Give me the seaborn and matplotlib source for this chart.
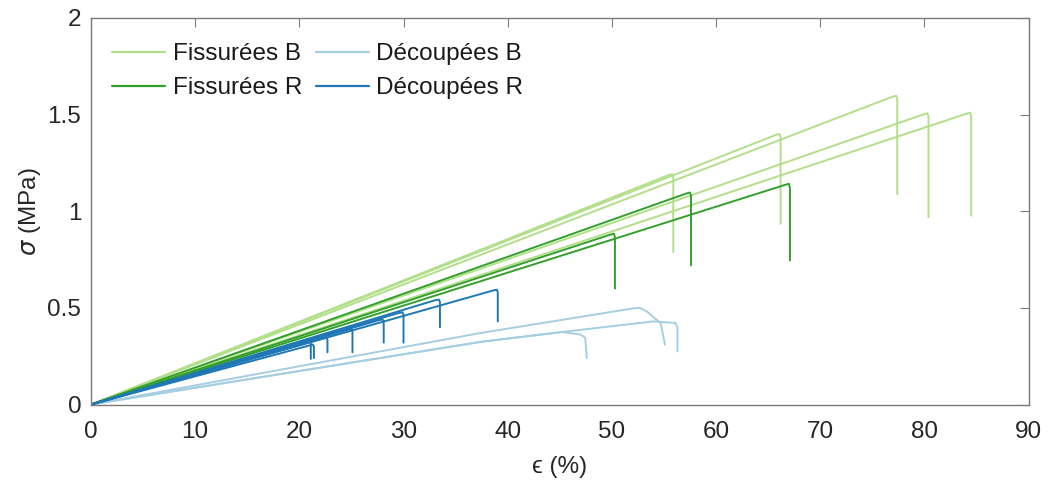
import numpy as np
import pandas as pd
import matplotlib
matplotlib.use("Agg")
import matplotlib.pyplot as plt
import seaborn as sns

# ---- data (strain %, stress MPa) ----
groups = ["Fissurées B", "Fissurées R", "Découpées B", "Découpées R"]
colors = ["#b2df8a", "#33a02c", "#a6cee3", "#1f78b4"]

fisB_eps = [
    [0, 76.9, 77.3, 77.4, 77.4],
    [0, 79.9, 80.3, 80.4, 80.4],
    [0, 84.0, 84.4, 84.5, 84.5],
    [0, 65.7, 66.1, 66.2, 66.2],
    [0, 55.4, 55.8, 55.9, 55.9],
]
fisB_sig = [
    [0, 1.592, 1.598, 1.58, 1.089],
    [0, 1.501, 1.507, 1.49, 0.968],
    [0, 1.504, 1.510, 1.49, 0.977],
    [0, 1.394, 1.400, 1.38, 0.935],
    [0, 1.186, 1.192, 1.17, 0.790],
]

fisR_eps = [
    [0, 49.8, 50.2, 50.3, 50.3],
    [0, 57.1, 57.5, 57.6, 57.6],
    [0, 66.6, 67.0, 67.1, 67.1],
]
fisR_sig = [
    [0, 0.878, 0.884, 0.865, 0.600],
    [0, 1.091, 1.097, 1.08, 0.720],
    [0, 1.136, 1.142, 1.12, 0.746],
]

decB_eps = [
    [0, 37.4, 52.0, 52.7, 53.4, 54.7, 55.1],
    [0, 37.4, 45.2, 54.0, 56.1, 56.3, 56.3],
    [0, 37.4, 45.2, 47.0, 47.45, 47.6],
]
decB_sig = [
    [0, 0.370, 0.497, 0.500, 0.480, 0.420, 0.310],
    [0, 0.324, 0.375, 0.430, 0.422, 0.400, 0.275],
    [0, 0.324, 0.375, 0.362, 0.345, 0.240],
]

decR_eps = [
    [0, 38.6, 38.97, 39.05, 39.05],
    [0, 33.0, 33.4, 33.5, 33.5],
    [0, 29.5, 29.9, 30.0, 30.0],
    [0, 27.6, 28.0, 28.1, 28.1],
    [0, 24.6, 25.0, 25.1, 25.1],
    [0, 22.2, 22.6, 22.7, 22.7],
    [0, 20.7, 21.0, 21.1, 21.1],
    [0, 21.0, 21.3, 21.4, 21.4],
]
decR_sig = [
    [0, 0.590, 0.594, 0.58, 0.430],
    [0, 0.539, 0.543, 0.53, 0.400],
    [0, 0.473, 0.477, 0.465, 0.320],
    [0, 0.436, 0.440, 0.43, 0.320],
    [0, 0.386, 0.390, 0.38, 0.270],
    [0, 0.341, 0.345, 0.335, 0.270],
    [0, 0.326, 0.330, 0.32, 0.236],
    [0, 0.306, 0.310, 0.30, 0.240],
]

xticks = [0, 10, 20, 30, 40, 50, 60, 70, 80, 90]
yticks = [0, 0.5, 1, 1.5, 2]
ytick_labels = ["0", "0.5", "1", "1.5", "2"]

# ---- build long table ----
rows = []
all_eps = [fisB_eps, fisR_eps, decB_eps, decR_eps]
all_sig = [fisB_sig, fisR_sig, decB_sig, decR_sig]
for g, E, S in zip(groups, all_eps, all_sig):
    for k, (e, s) in enumerate(zip(E, S)):
        for i, (ee, ss) in enumerate(zip(e, s)):
            rows.append(dict(group=g, curve=f"{g}-{k}", idx=i, eps=ee, sig=ss))
df = pd.DataFrame(rows)

sns.set_theme(style="white")
plt.rcParams["font.family"] = ["Liberation Sans", "DejaVu Sans"]
plt.rcParams["mathtext.fontset"] = "dejavusans"

FS = 17.5
fig = plt.figure(figsize=(10.48, 4.83), dpi=100)
ax = fig.add_axes([91 / 1048, 1 - 404.5 / 483, (1028.5 - 91) / 1048, (404.5 - 18) / 483])

sns.lineplot(data=df, x="eps", y="sig", hue="group", units="curve",
             estimator=None, sort=False, hue_order=groups,
             palette=dict(zip(groups, colors)), lw=1.4, ax=ax, legend=False)

ax.set_xlim(0, 90)
ax.set_ylim(0, 2)
ax.set_xticks(xticks)
ax.set_xticklabels([str(t) for t in xticks])
ax.set_yticks(yticks)
ax.set_yticklabels(ytick_labels)

spine_col = "#7a7a7a"
for sp in ax.spines.values():
    sp.set_visible(True)
    sp.set_color(spine_col)
    sp.set_linewidth(1.0)
ax.tick_params(direction="in", length=6.5, width=0.8, color=spine_col,
               top=True, right=True, labelsize=FS, labelcolor="#262626")
ax.tick_params(axis="x", pad=12)
ax.tick_params(axis="y", pad=7)
ax.set_xlabel("ϵ (%)", fontsize=FS, color="#262626", labelpad=9)
ax.set_ylabel(r"$\sigma$ (MPa)", fontsize=FS, color="#262626", labelpad=3)

from matplotlib.lines import Line2D
handles = [Line2D([], [], color=c, lw=1.6) for c in colors]
leg = ax.legend(handles, groups, ncol=2, loc="upper left",
                bbox_to_anchor=(0.0224, 0.935), frameon=False,
                fontsize=FS, borderpad=0, borderaxespad=0,
                handlelength=2.2, handletextpad=0.3, columnspacing=0.55,
                labelspacing=0.5)
for t in leg.get_texts():
    t.set_color("#1a1a1a")

fig.savefig("out.png", dpi=100)
